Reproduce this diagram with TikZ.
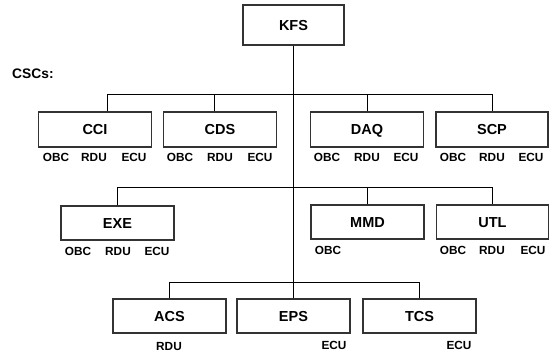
\documentclass[tikz,border=0pt]{standalone}
\usepackage{fontspec}
\setmainfont{Liberation Sans}
\usetikzlibrary{calc}
\begin{document}
\begin{tikzpicture}[x=1pt,y=-1pt,
  box/.style={draw=black!80,line width=1.1pt,fill=white,minimum width=113pt,minimum height=34pt,inner sep=0pt,text height=10.4pt,text depth=0pt,font=\fontsize{14.5}{16}\selectfont\bfseries},
  sub/.style={inner sep=0pt,text height=8.5pt,text depth=0pt,font=\fontsize{11.8}{13}\selectfont\bfseries},
  conn/.style={draw=black,line width=0.9pt}]
\useasboundingbox (0,0) rectangle (549,352);
% main box
\node[box,minimum width=101pt,minimum height=40pt] (KFS) at (293.5,25) {KFS};
\node[anchor=west,inner sep=0pt,font=\fontsize{13.8}{15}\selectfont\bfseries] (csc) at (12,74) {CSCs:};
% row 1
\node[box,minimum height=35pt] (CCI) at (95,129.5) {CCI};
\node[box,minimum height=35pt] (CDS) at (220,129.5) {CDS};
\node[box,minimum height=35pt] (DAQ) at (367,129.5) {DAQ};
\node[box,minimum height=35pt,minimum width=112pt] (SCP) at (492,129.5) {SCP};
% row 2
\node[box] (EXE) at (117.5,223) {EXE};
\node[box] (MMD) at (367.5,222) {MMD};
\node[box,minimum width=112pt] (UTL) at (492.5,222) {UTL};
% row 3
\node[box] (ACS) at (169.5,316) {ACS};
\node[box] (EPS) at (293.5,316) {EPS};
\node[box] (TCS) at (419.5,316) {TCS};
% bar levels
\coordinate (b1) at (293.5,94);
\coordinate (b2) at (293.5,187.5);
\coordinate (b3) at (293.5,282);
% connectors
\draw[conn] (KFS.south) -- (EPS.north);
\draw[conn] ([xshift=12pt]CCI.north) |- (SCP.north |- b1) -- (SCP.north);
\draw[conn] ([xshift=-6pt]CDS.north) -- ([xshift=-6pt]CDS.north |- b1);
\draw[conn] (DAQ.north) -- (DAQ.north |- b1);
\draw[conn] (EXE.north) |- (UTL.north |- b2) -- (UTL.north);
\draw[conn] (MMD.north) -- (MMD.north |- b2);
\draw[conn] (ACS.north) |- (TCS.north |- b3) -- (TCS.north);
% sub labels row 1
\node[sub] (cci1) at (56,157) {OBC};
\node[sub] (cci2) at (94,157) {RDU};
\node[sub] (cci3) at (134,157) {ECU};
\node[sub] (cds1) at (180,157) {OBC};
\node[sub] (cds2) at (220,157) {RDU};
\node[sub] (cds3) at (260,157) {ECU};
\node[sub] (daq1) at (327,157) {OBC};
\node[sub] (daq2) at (367,157) {RDU};
\node[sub] (daq3) at (406,157) {ECU};
\node[sub] (scp1) at (453,157) {OBC};
\node[sub] (scp2) at (492,157) {RDU};
\node[sub] (scp3) at (531,157) {ECU};
% row 2
\node[sub] (exe1) at (78,251) {OBC};
\node[sub] (exe2) at (118,251) {RDU};
\node[sub] (exe3) at (157,251) {ECU};
\node[sub] (mmd1) at (328,250) {OBC};
\node[sub] (utl1) at (453,250) {OBC};
\node[sub] (utl2) at (492,250) {RDU};
\node[sub] (utl3) at (533,250) {ECU};
% row 3
\node[sub] (acs1) at (169,346) {RDU};
\node[sub] (eps1) at (334,345) {ECU};
\node[sub] (tcs1) at (459,345) {ECU};
\end{tikzpicture}
\end{document}
